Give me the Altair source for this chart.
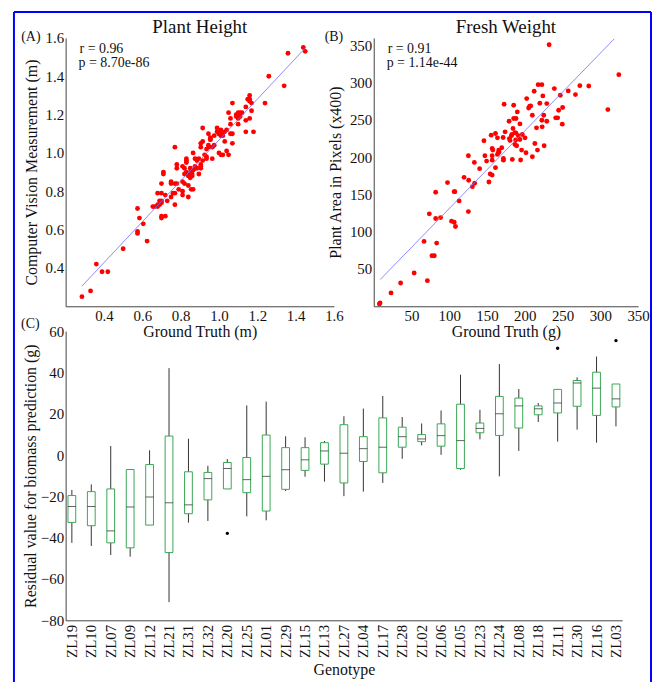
import altair as alt
import pandas as pd

FONT = "Liberation Serif"
TXT = "#111111"

# ---------------- Panel A: plant height ----------------
height_truth = [0.285, 0.33, 0.36, 0.39, 0.42, 0.50, 0.575, 0.585, 0.605, 0.575, 0.575, 0.625,
                0.655, 0.665, 0.68, 0.68, 0.69, 0.68, 0.70, 0.70, 0.71, 0.71, 0.70, 0.70, 0.72,
                0.69, 0.70, 0.70, 0.72, 0.73, 0.75, 0.76, 0.77, 0.75, 0.75, 0.77, 0.78, 0.78,
                0.77, 0.78, 0.77, 0.79, 0.81, 0.81, 0.81, 0.82, 0.83, 0.83, 0.84, 0.84, 0.84,
                0.85, 0.86, 0.85, 0.855, 0.865, 0.875, 0.875, 0.855, 0.865, 0.875, 0.865, 0.885,
                0.895, 0.895, 0.905, 0.905, 0.915, 0.905, 0.915, 0.915, 0.925, 0.935, 0.935,
                0.945, 0.945, 0.945, 0.955, 0.955, 0.965, 0.965, 0.975, 0.975, 0.99, 0.99, 1.00,
                1.00, 1.00, 1.01, 1.02, 1.02, 1.01, 1.02, 1.03, 1.03, 1.04, 1.04, 1.05, 1.05,
                1.06, 1.06, 1.06, 1.07, 1.07, 1.07, 1.09, 1.10, 1.10, 1.11, 1.12, 1.10, 1.14,
                1.14, 1.14, 1.15, 1.16, 1.16, 1.16, 1.17, 1.17, 1.18, 1.24, 1.26, 1.34, 1.36,
                1.44, 1.45, 0.81, 0.82, 0.83, 0.83, 0.84, 0.86, 0.82, 0.885, 0.905, 0.935,
                0.905, 0.955, 1.01, 1.09, 1.11, 1.16]
height_cv = [0.25, 0.28, 0.42, 0.38, 0.38, 0.50, 0.71, 0.66, 0.63, 0.59, 0.58, 0.54,
             0.72, 0.72, 0.72, 0.73, 0.73, 0.79, 0.79, 0.84, 0.89, 0.90, 0.67, 0.66, 0.67,
             0.75, 0.75, 0.74, 0.78, 0.75, 0.77, 0.79, 0.79, 0.85, 0.84, 1.03, 0.94, 0.92,
             0.84, 0.84, 0.73, 0.81, 0.80, 0.78, 0.85, 0.89, 0.96, 0.95, 0.83, 0.77, 0.88,
             0.87, 0.89, 0.92, 0.91, 0.91, 0.92, 0.93, 0.81, 0.81, 0.97, 1.00, 0.96,
             0.97, 0.89, 0.92, 0.93, 0.96, 1.03, 1.06, 1.13, 0.99, 0.97, 0.98,
             1.04, 1.03, 1.10, 1.08, 1.07, 0.97, 1.03, 1.04, 1.09, 1.13, 1.11, 1.10,
             1.10, 1.00, 1.09, 1.10, 1.09, 0.99, 0.99, 1.06, 1.11, 1.12, 1.01, 0.99, 1.21,
             1.18, 1.15, 1.10, 1.10, 1.05, 1.26, 1.19, 1.18, 1.21, 1.21, 1.21, 1.15, 1.11,
             1.17, 1.24, 1.28, 1.28, 1.27, 1.30, 1.22, 1.26, 1.11, 1.26, 1.40, 1.35, 1.52,
             1.55, 1.53, 0.93, 0.92, 0.97, 0.90, 0.89, 0.88, 0.84, 0.92, 0.94, 1.02,
             1.05, 1.07, 1.12, 1.20, 1.19, 1.18]
height_fit_x = [0.285, 1.448]
height_fit_y = [0.305, 1.545]
height_ticks = [0.4, 0.6, 0.8, 1.0, 1.2, 1.4, 1.6]
height_stats = ["r = 0.96", "p = 8.70e-86"]

# ---------------- Panel B: fresh weight ----------------
weight_truth = [8.4, 7.5, 22.9, 35.6, 53.5, 71, 66.6, 73.6, 77.1, 80.2, 82, 82, 83.3, 88.5,
                97.7, 103, 106.5, 107.4, 106.5, 108.2, 113, 119.6, 125.3, 125.7, 125.3, 130.6,
                133.6, 133.2, 140.2, 145.9, 147.2, 149.4, 152.5, 154.2, 156.8, 155.5, 156.8,
                157.7, 156.8, 156.8, 161.2, 161.2, 163.8, 165.1, 163.8, 165.5, 166, 169.5,
                171.3, 171.7, 171.7, 172.6, 173.9, 179.2, 179.6, 180.5, 182.2, 183.1, 183.5,
                184.4, 185.3, 188.4, 185.3, 187, 188.4, 187, 189.2, 187.9, 190.1, 191.4, 193.6,
                193.6, 194.5, 195.8, 196.7, 200.3, 201.6, 202.5, 205.1, 206.5, 207.8, 210, 210,
                212.4, 213.3, 215.5, 216.8, 217.7, 219.9, 222.6, 222.6, 223, 223.9, 225.1,
                225.6, 229.1, 229.1, 232.2, 239.1, 240.9, 243.5, 244.8, 247, 249.6, 250.1,
                257.5, 267.1, 272.9, 284.7, 310, 324.5]
weight_area = [4.5, 3.2, 17.9, 31.3, 44.7, 34.4, 87, 124, 67.8, 67.8, 153, 117.7, 84.8, 119,
               165.9, 114.2, 153.8, 153.8, 112.8, 107, 141.4, 173, 202, 169, 127, 160.5,
               165, 193, 184.6, 222, 202, 194.8, 166.8, 177.5, 176, 229.6, 211.8,
               209.5, 202, 196, 231.8, 186, 203.7, 206.4, 226, 209.5, 207, 212.7,
               226.5, 198.4, 196, 271, 234, 248.3, 225, 222.5, 228.7, 230.5, 197,
               238.5, 251.9, 251.9, 269.7, 233, 232.3, 217, 215.3, 223, 260.8, 228.7, 244.7,
               223.8, 196.2, 209.5, 230.5, 226, 206, 278.6, 266, 268.4, 268.8, 256.3, 200.6,
               288.4, 218.4, 239.4, 209.5, 297.3, 272.4, 297.3, 249.6, 240.7, 282.2, 256.3,
               215.3, 248.3, 271.9, 350.8, 292, 252.8, 252.8, 263, 283.1, 244.3, 266.6,
               288.9, 284, 296, 295.5, 263.9, 310.7]
weight_fit_x = [8.5, 318.5]
weight_fit_y = [35.8, 358.8]
weight_ticks = [50, 100, 150, 200, 250, 300, 350]
weight_stats = ["r = 0.91", "p = 1.14e-44"]

# ---------------- Panel C: residual boxplots ----------------
genotypes = ["ZL19", "ZL10", "ZL07", "ZL09", "ZL12", "ZL21", "ZL31", "ZL32", "ZL20", "ZL25",
             "ZL01", "ZL29", "ZL15", "ZL13", "ZL27", "ZL04", "ZL17", "ZL28", "ZL02", "ZL06",
             "ZL05", "ZL23", "ZL24", "ZL08", "ZL18", "ZL11", "ZL30", "ZL16", "ZL03"]
whisker_low = [-42.5, -44.0, -48.4, -49.2, -33.9, -71.2, -32.7, -31.9, -16.4, -29.7,
               -31.6, -17.4, -10.5, -12.9, -19.9, -17.7, -13.5, -1.8, 4.7, 0.1,
               -7.1, 7.6, -10.3, 2.0, 16.0, 6.5, 12.3, 6.0, 13.9]
quartile_1 = [-32.6, -34.2, -42.5, -44.9, -33.9, -47.2, -28.4, -21.7, -16.4, -18.2,
              -27.1, -16.6, -7.4, -4.4, -13.5, -3.1, -8.6, 3.8, 6.5, 4.3,
              -6.5, 10.8, 9.5, 13.1, 19.5, 20.4, 23.6, 19.2, 23.3]
median = [-24.9, -24.9, -36.7, -25.2, -20.3, -23.1, -24.1, -11.4, -6.5, -11.9,
          -10.3, -7.1, -2.3, 2.0, 0.9, 3.1, 3.8, 8.9, 7.8, 9.4,
          7.0, 12.9, 20.0, 23.8, 22.4, 25.2, 34.9, 32.4, 27.2]
quartile_3 = [-19.6, -17.7, -16.4, -7.0, -4.6, 9.2, -8.1, -8.4, -3.6, -1.2,
              9.7, 3.6, 3.6, 6.0, 14.7, 8.9, 18.0, 13.5, 9.9, 15.1,
              24.6, 15.5, 28.4, 27.6, 23.8, 31.8, 36.1, 40.1, 34.4]
whisker_high = [-16.9, -14.2, 4.4, -7.0, 2.3, 42.1, 7.9, -5.2, -2.0, 24.0,
                25.9, 9.1, 8.6, 6.8, 18.8, 22.5, 28.6, 18.4, 15.3, 21.6,
                38.9, 21.9, 44.1, 32.0, 25.2, 31.8, 37.6, 47.7, 34.4]
outlier_genotype = ["ZL20", "ZL11", "ZL03"]
outlier_value = [-37.9, 51.7, 55.4]
residual_ticks = [-80, -60, -40, -20, 0, 20, 40, 60]


def axis(**kw):
    base = dict(labelFont=FONT, titleFont=FONT, labelFontSize=15, titleFontSize=16,
                titleFontWeight="normal", labelColor=TXT, titleColor=TXT,
                domainColor="#444444", domainWidth=1, ticks=False, grid=False,
                labelFlush=False, labelOverlap=False, titleBaseline="alphabetic")
    base.update(kw)
    return alt.Axis(**base)


def label(text, x, y, size, align="left"):
    return alt.Chart(alt.Data(values=[{"t": text}])).mark_text(
        font=FONT, fontSize=size, align=align, baseline="middle", color=TXT
    ).encode(x=alt.value(x), y=alt.value(y), text="t:N")


def scatter(truth, meas, fit_x, fit_y, dom_x, dom_y, ticks, fmt, xtitle, ytitle,
            title, stats, tag, w, h, title_x, tag_x):
    x = alt.X("truth:Q", scale=alt.Scale(domain=dom_x, nice=False, zero=False),
              axis=axis(values=ticks, format=fmt, title=xtitle, labelPadding=2, titleY=30))
    y = alt.Y("meas:Q", scale=alt.Scale(domain=dom_y, nice=False, zero=False),
              axis=axis(values=ticks, format=fmt, title=ytitle, labelPadding=2,
                        titleX=title_x, titleY=h / 2))
    pts = alt.Chart(pd.DataFrame({"truth": truth, "meas": meas})).mark_circle(
        size=24, color="#ff0000", opacity=1).encode(x=x, y=y)
    fit = alt.Chart(pd.DataFrame({"truth": fit_x, "meas": fit_y})).mark_line(
        color="#6f6fff", strokeWidth=0.8).encode(x=x, y=y)
    return alt.layer(
        pts, fit,
        label(title, w / 2, -11, 19, "center"),
        label(stats[0], 14, 11, 14),
        label(stats[1], 13, 25, 14),
        label(tag, tag_x, -1, 14, "center"),
    ).properties(width=w, height=h)


A = scatter(height_truth, height_cv, height_fit_x, height_fit_y, [0.2, 1.6], [0.2, 1.6],
            height_ticks, ".1f", "Ground Truth (m)", "Computer Vision Measurement (m)",
            "Plant Height", height_stats, "(A)", 270, 270, -29, -35)
B = scatter(weight_truth, weight_area, weight_fit_x, weight_fit_y, [0, 350], [0, 360],
            weight_ticks, "d", "Ground Truth (g)", "Plant Area in Pixels (x400)",
            "Fresh Weight", weight_stats, "(B)", 266, 270, -33, -40)

box_df = pd.DataFrame({"g": genotypes, "lo": whisker_low, "q1": quartile_1, "med": median,
                       "q3": quartile_3, "hi": whisker_high})
out_df = pd.DataFrame({"g": outlier_genotype, "lo": outlier_value})

CW, CH = 560, 291
xC = alt.X("g:N", sort=genotypes, scale=alt.Scale(paddingInner=0.6, paddingOuter=0.12),
           axis=axis(title="Genotype", labelAngle=-90, labelPadding=4, titleY=55))


def yC(field):
    return alt.Y(f"{field}:Q", scale=alt.Scale(domain=[-80, 60], nice=False),
                 axis=axis(values=residual_ticks, title="Residual value for biomass prediction (g)",
                           labelPadding=2, titleX=-30, titleY=CH / 2))


whiskers = alt.Chart(box_df).mark_rule(color="#333333", strokeWidth=1).encode(
    x=xC, y=yC("lo"), y2="hi:Q")
boxes = alt.Chart(box_df).mark_bar(fill="white", stroke="#3aa655", strokeWidth=1).encode(
    x=xC, y=yC("q1"), y2="q3:Q")
medians = alt.Chart(box_df).mark_tick(color="#222222", thickness=1, size=8).encode(
    x=xC, y=yC("med"))
outliers = alt.Chart(out_df).mark_circle(size=12, color="#000000", opacity=1).encode(
    x=xC, y=yC("lo"))

border = alt.Chart(alt.Data(values=[{"a": 1}])).mark_rule(color="#0000ff", strokeWidth=2)
b_left = border.encode(x=alt.value(-52), y=alt.value(-321), y2=alt.value(360))
b_top = border.encode(x=alt.value(-52), x2=alt.value(589), y=alt.value(-321))
b_right = border.encode(x=alt.value(589), y=alt.value(-321), y2=alt.value(360))

C = alt.layer(whiskers, boxes, medians, outliers, label("(C)", -35.5, -7, 14, "center"),
              b_left, b_top, b_right).properties(width=CW, height=CH)

chart = alt.vconcat(
    alt.hconcat(A, B, spacing=40, bounds="flush"),
    C,
    spacing=295,
    bounds="flush",
).properties(
    padding={"left": 5, "top": 1, "right": 0, "bottom": 0},
    background="white",
).configure_view(strokeWidth=0)

chart.save("out.html", embed_options={"renderer": "svg", "actions": False})
